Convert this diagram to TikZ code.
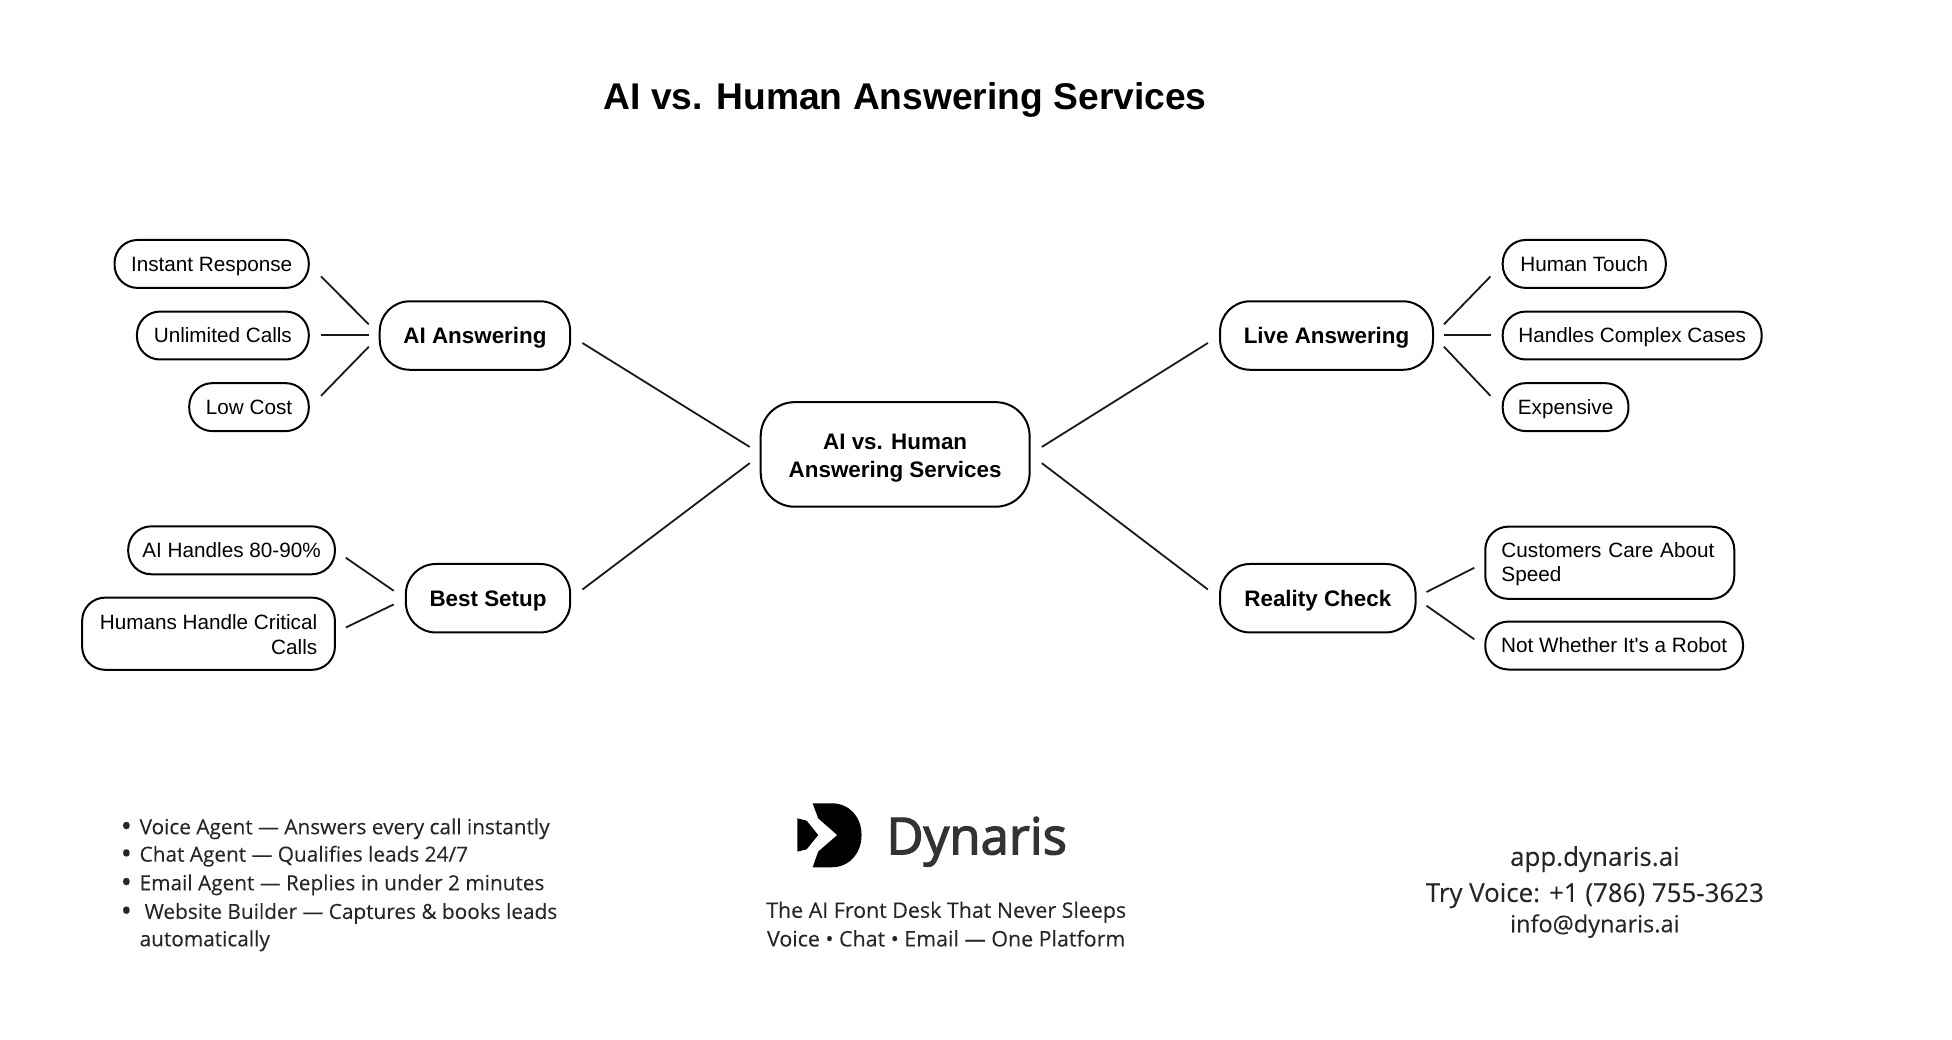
\documentclass[tikz,border=0pt]{standalone}
\usepackage{fontspec}
\setmainfont{Liberation Sans}
\newfontfamily\arialish{Liberation Sans}
\newfontfamily\foot{Open Sans}[FakeBold=0.15]
\newfontfamily\brand{Open Sans}[FakeBold=2.5]
\tikzset{
  hull/.style 2 args={draw=black,line width=2pt,fill=white,inner sep=0pt,minimum width=#1*1.245pt,minimum height=#2*1.245pt},
  oneline/.style={text height=#1,text depth=0pt},
  leaf/.style 2 args={hull={#1}{#2},rounded corners=23pt,font=\arialish\fontsize{20.7}{24.3}\selectfont},
  leafone/.style 2 args={leaf={#1}{#2},oneline=14.9pt},
  branch/.style 2 args={hull={#1}{#2},oneline=16.1pt,rounded corners=30pt,font=\arialish\fontsize{22.4}{27}\selectfont\bfseries},
  hub/.style 2 args={hull={#1}{#2},rounded corners=34pt,font=\arialish\fontsize{22.4}{27.5}\selectfont\bfseries,align=center},
  link/.style={line width=1.8pt,draw=black!90},
  footline/.style={oneline=15.1pt,text=black!85,inner sep=0pt,font=\foot\fontsize{20.8}{24}\selectfont},
  tagline/.style={footline,oneline=15.4pt,font=\foot\fontsize{21.4}{24}\selectfont},
  footbig/.style={footline,oneline=18.6pt,font=\foot\fontsize{25.9}{28}\selectfont},
  footmid/.style={footline,oneline=16.9pt,font=\foot\fontsize{23.5}{26}\selectfont},
  dotmark/.style={inner sep=0pt,text=black!85,font=\foot\fontsize{30}{30}\selectfont},
}
\begin{document}
\begin{tikzpicture}[x=1.245pt,y=-1.245pt]
\useasboundingbox (0,0) rectangle (1567.87,835.34);
\node[oneline=26.8pt,inner sep=0pt,font=\arialish\fontsize{37.2}{44}\selectfont\bfseries] (title) at (727,77) {AI vs. Human Answering Services};
% hub and branches
\node[hub={216}{84}] (hub) at (719,365) {\rule{0pt}{23pt}AI vs. Human\\Answering Services};
\node[branch={153}{55}] (ai) at (381.5,269.5) {AI Answering};
\node[branch={132}{55}] (best) at (392,480.5) {Best Setup};
\node[branch={171}{55}] (live) at (1065.5,269.5) {Live Answering};
\node[branch={157}{55}] (real) at (1058.5,480.5) {Reality Check};
% left leaves
\node[leafone={156}{38.5}] (instant) at (170,212) {Instant Response};
\node[leafone={138}{38.5}] (unlim) at (179,269.5) {Unlimited Calls};
\node[leafone={96}{38.5}] (low) at (200,327) {Low Cost};
\node[leafone={166}{38.5}] (handles) at (186,442) {AI Handles 80-90\%};
\node[leaf={203}{58},align=right] (humans) at (167.5,509) {\rule{0pt}{16.5pt}Humans Handle Critical\\Calls};
% right leaves
\node[leafone={131}{38.5}] (touch) at (1272.5,212) {Human Touch};
\node[leafone={208}{38.5}] (complex) at (1311,269.5) {Handles Complex Cases};
\node[leafone={101}{38.5}] (exp) at (1257.5,327) {Expensive};
\node[leaf={200}{58},align=left,text width=174*1.245pt] (speed) at (1293,452) {\rule{0pt}{18pt}Customers Care About\\Speed};
\node[leafone={207}{38.5}] (robot) at (1296.5,518.5) {Not Whether It's a Robot};
% connectors
\draw[link] ([shift={(-8,-6)}]hub.west) -- ([shift={(9,6)}]ai.east);
\draw[link] ([shift={(-8,7)}]hub.west) -- ([shift={(9,-7)}]best.east);
\draw[link] ([shift={(9,-6)}]hub.east) -- ([shift={(-9,6)}]live.west);
\draw[link] ([shift={(9,7)}]hub.east) -- ([shift={(-9,-7)}]real.west);
\draw[link] ([shift={(-8,-9)}]ai.west) -- ([shift={(9,10)}]instant.east);
\draw[link] ([shift={(-8,-0.4)}]ai.west) -- ([shift={(9,-0.4)}]unlim.east);
\draw[link] ([shift={(-8,9)}]ai.west) -- ([shift={(9,-9)}]low.east);
\draw[link] ([shift={(-9,-6)}]best.west) -- ([shift={(8,6)}]handles.east);
\draw[link] ([shift={(-9,5)}]best.west) -- ([shift={(8,-5)}]humans.east);
\draw[link] ([shift={(8,-9)}]live.east) -- ([shift={(-9,10)}]touch.west);
\draw[link] ([shift={(8,-0.4)}]live.east) -- ([shift={(-9,-0.4)}]complex.west);
\draw[link] ([shift={(8,9)}]live.east) -- ([shift={(-9,-9)}]exp.west);
\draw[link] ([shift={(8,-5)}]real.east) -- ([shift={(-8,4)}]speed.west);
\draw[link] ([shift={(8,6)}]real.east) -- ([shift={(-8,-5)}]robot.west);
% bullet list
\foreach \n/\yy in {a/666,b/688,c/711,d/734}{\node[dotmark] (dot\n) at (101.5,\yy) {•};}
\node[footline,anchor=west] (l1) at (112,664) {Voice Agent — Answers every call instantly};
\node[footline,anchor=west] (l2) at (112,686) {Chat Agent — Qualifies leads 24/7};
\node[footline,anchor=west] (l3) at (112,709) {Email Agent — Replies in under 2 minutes};
\node[footline,anchor=west] (l4) at (116,732) {Website Builder — Captures \& books leads};
\node[footline,anchor=west] (l5) at (112,754) {automatically};
% logo
\fill[black] (652.7,645.2) -- (668,645.2) .. controls (682,645.2) and (692,656) .. (692,670.7) .. controls (692,685.5) and (682,696.6) .. (668,696.6) -- (652.7,696.6) -- (657.2,684) -- (672.5,670.7) -- (657.2,657.3) -- cycle;
\fill[black] (640.4,657.3) -- (647.9,659.2) -- (657.2,670.7) -- (647.9,682.2) -- (640.4,684) -- cycle;
\node[oneline=36.6pt,inner sep=0pt,text=black!80,font=\brand\fontsize{51}{54}\selectfont] (brand) at (784.5,671.5) {Dynaris};
\node[tagline] (tag1) at (760,731) {The AI Front Desk That Never Sleeps};
\node[tagline] (tag2) at (760,754) {Voice • Chat • Email — One Platform};
% contacts
\node[footbig] (app) at (1281,688) {app.dynaris.ai};
\node[footbig] (try) at (1281,717) {Try Voice: +1 (786) 755-3623};
\node[footmid] (mail) at (1281,742) {info@dynaris.ai};
\end{tikzpicture}
\end{document}
